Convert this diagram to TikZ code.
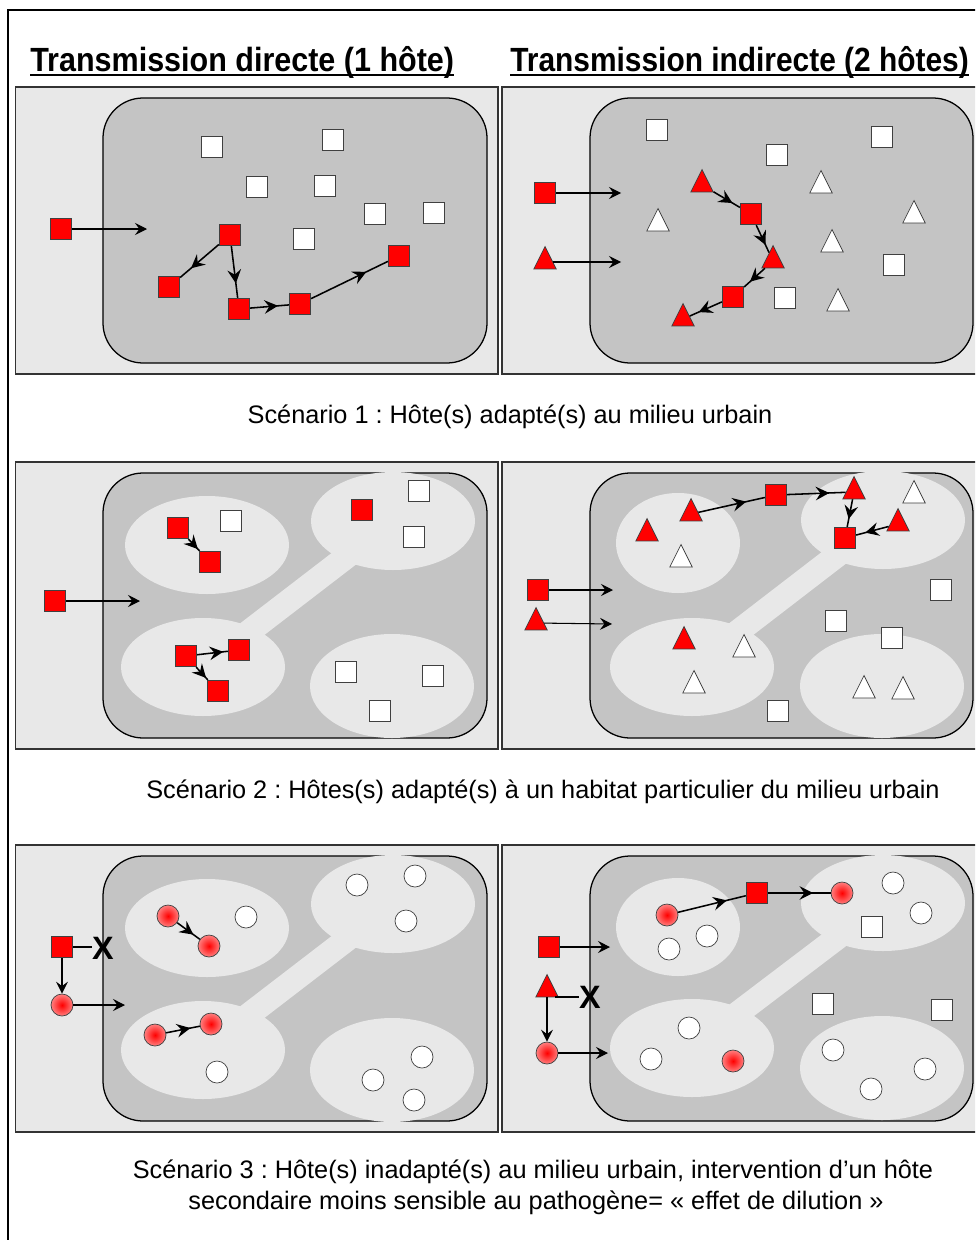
\documentclass[tikz,border=0pt]{standalone}
\usepackage{fontspec}
\setmainfont{Liberation Sans}
\frenchspacing
\usetikzlibrary{shapes.geometric}
\usetikzlibrary{arrows.meta}
\usetikzlibrary{decorations.markings}

\definecolor{PanelGray}{HTML}{E8E8E8}
\definecolor{CityGray}{HTML}{C4C4C4}
\definecolor{EdgeGray}{HTML}{333333}

\newsavebox{\TitleBox}
\newcommand{\TitleLine}[1]{\sbox{\TitleBox}{#1}\rlap{\rule[-2.6pt]{\wd\TitleBox}{1.4pt}}\usebox{\TitleBox}}

\tikzstyle{Panel}    = [fill=PanelGray, draw=EdgeGray, line width=1pt]
\tikzstyle{City}     = [fill=CityGray, draw=black, line width=0.9pt, rounded corners=10mm]
\tikzstyle{Habitat}  = [fill=PanelGray]
\tikzstyle{Corridor} = [draw=PanelGray, line width=6mm]
\tikzstyle{Host}     = [inner sep=0pt, draw=black!75, line width=0.5pt]
\tikzstyle{RedSq}    = [Host, rectangle, fill=red, minimum size=5.4mm]
\tikzstyle{WhiteSq}  = [Host, rectangle, fill=white, minimum size=5.4mm]
\tikzstyle{Tri}      = [Host, isosceles triangle, shape border rotate=90, isosceles triangle stretches,
                        minimum width=5.6mm, minimum height=5.6mm]
\tikzstyle{RedTri}   = [Tri, fill=red]
\tikzstyle{WhiteTri} = [Tri, fill=white]
\tikzstyle{RedDot}   = [Host, circle, minimum size=5.5mm, inner color=red, outer color=red!50!white]
\tikzstyle{WhiteDot} = [Host, circle, minimum size=5.5mm, fill=white]
\tikzstyle{Entry}    = [line width=0.75pt, -{Stealth[length=3mm, width=3mm, inset=1.1mm]}]
\tikzset{Move/.style = {line width=1.1pt, postaction={decorate},
                        decoration={markings, mark=at position #1 with
                          {\arrow{Stealth[length=3.4mm, width=3.4mm, inset=1.2mm]}}}},
         Move/.default = 0.72}
\tikzstyle{Blocked}  = [font=\bfseries\fontsize{23}{23}\selectfont, inner sep=0pt]
\tikzstyle{Title}    = [font=\bfseries\fontsize{21.7}{24}\selectfont, anchor=base west, inner sep=0pt]
\tikzstyle{Caption}  = [font=\fontsize{18}{22}\selectfont, anchor=base, inner sep=0pt]

\begin{document}
\begin{tikzpicture}[x=0.25mm, y=-0.25mm]

\useasboundingbox (0,0) rectangle (975,1240);
\clip (0,0) rectangle (975,1240);
\draw[line width=1.2pt] (8,10) rectangle (1000,1300);

%% ------------------------------------------------------------ [ Panels ]
\foreach \rowtop in {87,462,845} {
  \draw[Panel] (15.5,\rowtop) rectangle (498,\rowtop+287);
  \draw[Panel] (502,\rowtop) rectangle (1000,\rowtop+287);
}
\foreach \rowtop in {98,473,856} {
  \draw[City] (103,\rowtop) rectangle (487,\rowtop+265);
  \draw[City] (590,\rowtop) rectangle (973,\rowtop+265);
}

\node (title1) [Title] at (30,72) {\scalebox{1}[1.1]{\TitleLine{Transmission directe (1 hôte)}}};
\node (title2) [Title] at (510,72) {\scalebox{0.98}[1.1]{\TitleLine{Transmission indirecte (2 hôtes)}}};

%% ------------------------------------------------------------ [ Scénario 1 ]
\node (d1in0) [RedSq] at (61,229) {};
\coordinate (d1entry) at (147,229);
\node (d1w1) [WhiteSq] at (212,147) {};
\node (d1w2) [WhiteSq] at (333,140) {};
\node (d1w3) [WhiteSq] at (257,187) {};
\node (d1w4) [WhiteSq] at (325,186) {};
\node (d1w5) [WhiteSq] at (375,214) {};
\node (d1w6) [WhiteSq] at (434,213) {};
\node (d1w7) [WhiteSq] at (304,239) {};
\node (d1r1) [RedSq] at (230,235) {};
\node (d1r2) [RedSq] at (169,287) {};
\node (d1r3) [RedSq] at (239,309) {};
\node (d1r4) [RedSq] at (300,304) {};
\node (d1r5) [RedSq] at (399,256) {};
\draw[Entry] (d1in0) -- (d1entry);
\draw[Move] (d1r1) -- (d1r2);
\draw[Move] (d1r1) -- (d1r3);
\draw[Move] (d1r3) -- (d1r4);
\draw[Move] (d1r4) -- (d1r5);

\node (i1in0) [RedSq] at (545,193) {};
\node (i1in1) [RedTri] at (545,262) {};
\coordinate (i1entry0) at (621,193);
\coordinate (i1entry1) at (621,262);
\node (i1w1) [WhiteSq] at (657,130) {};
\node (i1w2) [WhiteSq] at (777,155) {};
\node (i1w3) [WhiteSq] at (882,137) {};
\node (i1w4) [WhiteSq] at (894,265) {};
\node (i1w5) [WhiteSq] at (785,298) {};
\node (i1v1) [WhiteTri] at (821,186) {};
\node (i1v2) [WhiteTri] at (658,224) {};
\node (i1v3) [WhiteTri] at (914,216) {};
\node (i1v4) [WhiteTri] at (832,245) {};
\node (i1v5) [WhiteTri] at (838,304) {};
\node (i1t1) [RedTri] at (702,185) {};
\node (i1s1) [RedSq] at (751,214) {};
\node (i1t2) [RedTri] at (773,261) {};
\node (i1s2) [RedSq] at (733,297) {};
\node (i1t3) [RedTri] at (683,319) {};
\draw[Entry] (i1in0) -- (i1entry0);
\draw[Entry] (i1in1) -- (i1entry1);
\draw[Move] (i1t1) -- (i1s1);
\draw[Move] (i1s1) -- (i1t2);
\draw[Move] (i1t2) -- (i1s2);
\draw[Move] (i1s2) -- (i1t3);

\node (scen1) [Caption] at (510,423) {Scénario 1 : Hôte(s) adapté(s) au milieu urbain};

%% ------------------------------------------------------------ [ Scénario 2 ]
\coordinate (d2hab1) at (207,545);
\coordinate (d2hab2) at (393,521);
\coordinate (d2hab3) at (203,667);
\coordinate (d2hab4) at (392,686);
\fill[Habitat] (d2hab1) ellipse [x radius=20.5mm, y radius=12.25mm];
\fill[Habitat] (d2hab2) ellipse [x radius=20.5mm, y radius=12.25mm];
\fill[Habitat] (d2hab3) ellipse [x radius=20.5mm, y radius=12.25mm];
\fill[Habitat] (d2hab4) ellipse [x radius=20.5mm, y radius=13mm];
\draw[Corridor] (d2hab3) -- (d2hab2);

\node (d2in0) [RedSq] at (55,601) {};
\coordinate (d2entry) at (140,601);
\node (d2w1) [WhiteSq] at (231,521) {};
\node (d2w2) [WhiteSq] at (419,491) {};
\node (d2w3) [WhiteSq] at (414,537) {};
\node (d2w4) [WhiteSq] at (346,672) {};
\node (d2w5) [WhiteSq] at (433,676) {};
\node (d2w6) [WhiteSq] at (380,711) {};
\node (d2r1) [RedSq] at (178,528) {};
\node (d2r2) [RedSq] at (210,562) {};
\node (d2r3) [RedSq] at (362,510) {};
\node (d2r4) [RedSq] at (186,656) {};
\node (d2r5) [RedSq] at (239,650) {};
\node (d2r6) [RedSq] at (218,691) {};
\draw[Entry] (d2in0) -- (d2entry);
\draw[Move=0.85] (d2r1) -- (d2r2);
\draw[Move=0.85] (d2r4) -- (d2r5);
\draw[Move=0.85] (d2r4) -- (d2r6);

\coordinate (i2hab1) at (678,543);
\coordinate (i2hab2) at (883,520);
\coordinate (i2hab3) at (692,667);
\coordinate (i2hab4) at (882,686);
\fill[Habitat] (i2hab1) ellipse [x radius=15.5mm, y radius=12.5mm];
\fill[Habitat] (i2hab2) ellipse [x radius=20.5mm, y radius=12.25mm];
\fill[Habitat] (i2hab3) ellipse [x radius=20.5mm, y radius=12.25mm];
\fill[Habitat] (i2hab4) ellipse [x radius=20.5mm, y radius=13mm];
\draw[Corridor] (i2hab3) -- (i2hab2);

\node (i2in0) [RedSq] at (538,590) {};
\node (i2in1) [RedTri] at (536,623) {};
\coordinate (i2entry0) at (613,590);
\coordinate (i2entry1) at (612,624);
\node (i2w1) [WhiteSq] at (941,590) {};
\node (i2w2) [WhiteSq] at (836,621) {};
\node (i2w3) [WhiteSq] at (892,638) {};
\node (i2w4) [WhiteSq] at (778,711) {};
\node (i2v1) [WhiteTri] at (681,560) {};
\node (i2v2) [WhiteTri] at (914,496) {};
\node (i2v3) [WhiteTri] at (744,650) {};
\node (i2v4) [WhiteTri] at (694,686) {};
\node (i2v5) [WhiteTri] at (864,691) {};
\node (i2v6) [WhiteTri] at (903,692) {};
\node (i2t1) [RedTri] at (691,514) {};
\node (i2t2) [RedTri] at (647,534) {};
\node (i2t3) [RedTri] at (854,492) {};
\node (i2t4) [RedTri] at (898,524) {};
\node (i2t5) [RedTri] at (684,642) {};
\node (i2s1) [RedSq] at (776,495) {};
\node (i2s2) [RedSq] at (845,538) {};
\draw[Entry] (i2in0) -- (i2entry0);
\draw[Entry] (i2in1) -- (i2entry1);
\draw[Move] (i2t1) -- (i2s1);
\draw[Move] (i2s1) -- (i2t3);
\draw[Move] (i2t3) -- (i2s2);
\draw[Move] (i2t4) -- (i2s2);

\node (scen2) [Caption] at (543,798) {Scénario 2 : Hôtes(s) adapté(s) à un habitat particulier du milieu urbain};

%% ------------------------------------------------------------ [ Scénario 3 ]
\coordinate (d3hab1) at (207,928);
\coordinate (d3hab2) at (393,904);
\coordinate (d3hab3) at (203,1050);
\coordinate (d3hab4) at (392,1070);
\fill[Habitat] (d3hab1) ellipse [x radius=20.5mm, y radius=12.25mm];
\fill[Habitat] (d3hab2) ellipse [x radius=20.5mm, y radius=12.25mm];
\fill[Habitat] (d3hab3) ellipse [x radius=20.5mm, y radius=12.25mm];
\fill[Habitat] (d3hab4) ellipse [x radius=20.5mm, y radius=13mm];
\draw[Corridor] (d3hab3) -- (d3hab2);

\node (d3in0) [RedSq] at (62,947) {};
\node (d3in1) [RedDot] at (62,1005) {};
\node (d3stop) [Blocked] at (103,948) {X};
\coordinate (d3entry) at (125,1005);
\node (d3w1) [WhiteDot] at (246,917) {};
\node (d3w2) [WhiteDot] at (357,885) {};
\node (d3w3) [WhiteDot] at (415,876) {};
\node (d3w4) [WhiteDot] at (406,921) {};
\node (d3w5) [WhiteDot] at (217,1072) {};
\node (d3w6) [WhiteDot] at (422,1057) {};
\node (d3w7) [WhiteDot] at (373,1080) {};
\node (d3w8) [WhiteDot] at (414,1100) {};
\node (d3r1) [RedDot] at (168,916) {};
\node (d3r2) [RedDot] at (209,946) {};
\node (d3r3) [RedDot] at (155,1035) {};
\node (d3r4) [RedDot] at (211,1024) {};
\draw[line width=0.75pt] (d3in0.east) -- (d3in0.east -| d3stop.west);
\draw[Entry] (d3in0) -- (d3in1);
\draw[Entry] (d3in1) -- (d3entry);
\draw[Move] (d3r1) -- (d3r2);
\draw[Move] (d3r3) -- (d3r4);

\coordinate (i3hab1) at (678,927);
\coordinate (i3hab2) at (883,903);
\coordinate (i3hab3) at (692,1048);
\coordinate (i3hab4) at (882,1068);
\fill[Habitat] (i3hab1) ellipse [x radius=15.5mm, y radius=12.25mm];
\fill[Habitat] (i3hab2) ellipse [x radius=20.5mm, y radius=12mm];
\fill[Habitat] (i3hab3) ellipse [x radius=20.5mm, y radius=12.25mm];
\fill[Habitat] (i3hab4) ellipse [x radius=20.5mm, y radius=13mm];
\draw[Corridor] (i3hab3) -- (i3hab2);

\node (i3in0) [RedSq] at (549,947) {};
\node (i3in1) [RedTri] at (547,990) {};
\node (i3in2) [RedDot] at (547,1053) {};
\node (i3stop) [Blocked] at (590,997) {X};
\coordinate (i3entry0) at (610,947);
\coordinate (i3entry2) at (608,1053);
\node (i3w1) [WhiteDot] at (893,883) {};
\node (i3w2) [WhiteDot] at (921,913) {};
\node (i3w3) [WhiteDot] at (707,936) {};
\node (i3w4) [WhiteDot] at (669,949) {};
\node (i3w5) [WhiteDot] at (689,1028) {};
\node (i3w6) [WhiteDot] at (651,1059) {};
\node (i3w7) [WhiteDot] at (833,1050) {};
\node (i3w8) [WhiteDot] at (925,1069) {};
\node (i3w9) [WhiteDot] at (871,1089) {};
\node (i3q1) [WhiteSq] at (872,927) {};
\node (i3q2) [WhiteSq] at (823,1004) {};
\node (i3q3) [WhiteSq] at (942,1010) {};
\node (i3r1) [RedDot] at (667,915) {};
\node (i3s1) [RedSq] at (757,893) {};
\node (i3r2) [RedDot] at (842,893) {};
\node (i3r3) [RedDot] at (733,1061) {};
\draw[Entry] (i3in0) -- (i3entry0);
\draw[line width=0.75pt] (i3in1.east |- i3stop.west) -- (i3stop.west);
\draw[Entry] (i3in1) -- (i3in2);
\draw[Entry] (i3in2) -- (i3entry2);
\draw[Move] (i3r1) -- (i3s1);
\draw[Move] (i3s1) -- (i3r2);

\node (scen3a) [Caption] at (533,1178) {Scénario 3 : Hôte(s) inadapté(s) au milieu urbain, intervention d’un hôte};
\node (scen3b) [Caption] at (536,1209) {secondaire moins sensible au pathogène= « effet de dilution »};

\end{tikzpicture}
\end{document}
